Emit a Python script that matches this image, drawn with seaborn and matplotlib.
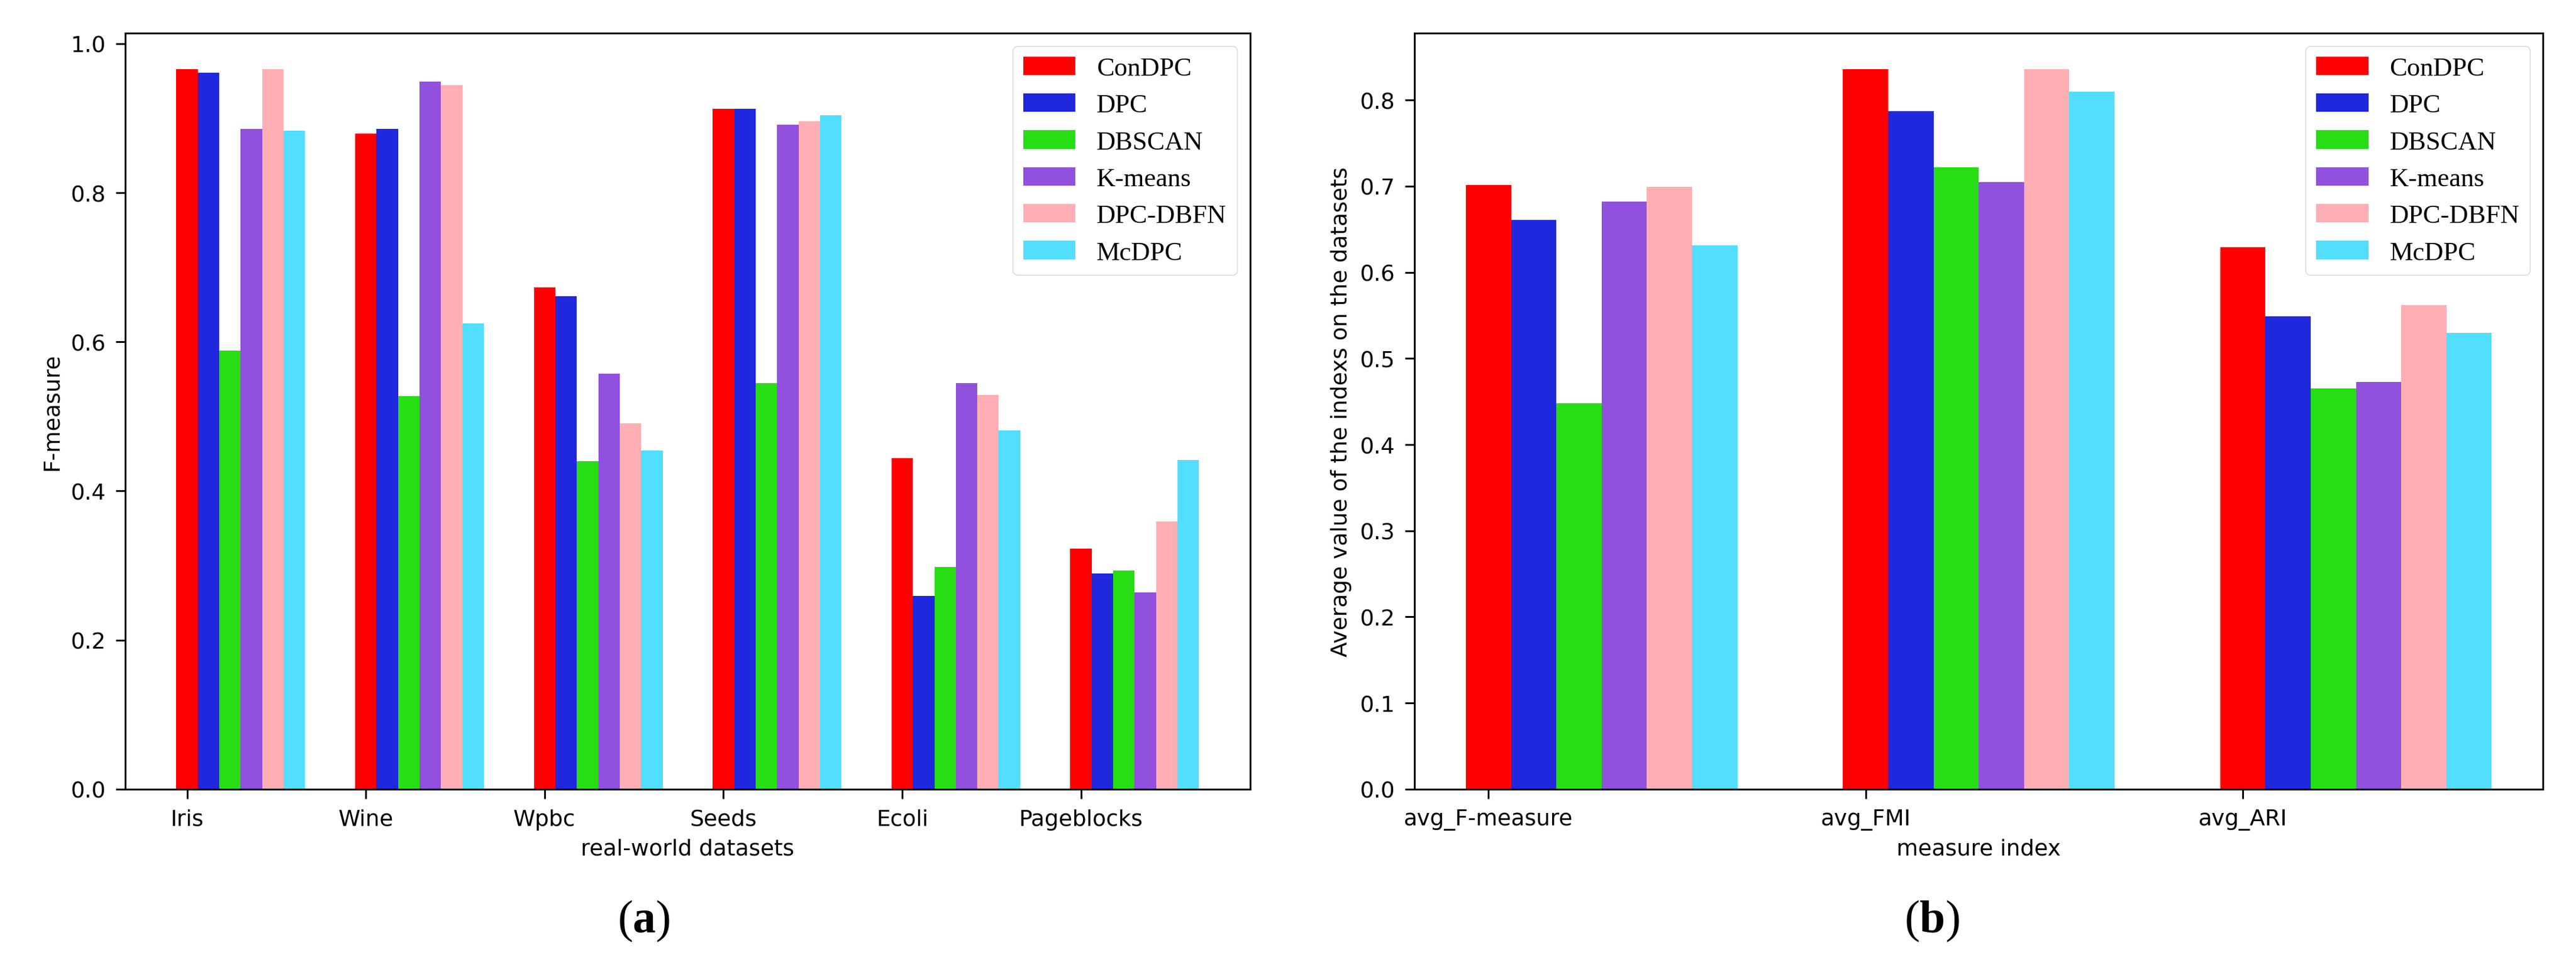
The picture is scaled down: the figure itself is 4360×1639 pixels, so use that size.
import numpy as np
import pandas as pd
import matplotlib
matplotlib.use("Agg")
import matplotlib.pyplot as plt
import seaborn as sns

# ---------------- data ----------------
methods = ["ConDPC", "DPC", "DBSCAN", "K-means", "DPC-DBFN", "McDPC"]
colors = ["#ff0000", "#1f28dc", "#27de14", "#9250de", "#ffaeb4", "#52defe"]

datasets = ["Iris", "Wine", "Wpbc", "Seeds", "Ecoli", "Pageblocks"]
fm_condpc = [0.966, 0.879, 0.673, 0.913, 0.444, 0.323]
fm_dpc = [0.961, 0.886, 0.661, 0.913, 0.259, 0.289]
fm_dbscan = [0.588, 0.527, 0.440, 0.545, 0.298, 0.293]
fm_kmeans = [0.886, 0.949, 0.557, 0.891, 0.545, 0.264]
fm_dpcdbfn = [0.966, 0.944, 0.491, 0.896, 0.529, 0.359]
fm_mcdpc = [0.883, 0.625, 0.454, 0.904, 0.481, 0.442]

measures = ["avg_F-measure", "avg_FMI", "avg_ARI"]
avg_condpc = [0.701, 0.836, 0.629]
avg_dpc = [0.661, 0.787, 0.549]
avg_dbscan = [0.448, 0.722, 0.465]
avg_kmeans = [0.682, 0.705, 0.473]
avg_dpcdbfn = [0.699, 0.836, 0.562]
avg_mcdpc = [0.631, 0.810, 0.530]

left_yticks = [0.0, 0.2, 0.4, 0.6, 0.8, 1.0]
right_yticks = [0.0, 0.1, 0.2, 0.3, 0.4, 0.5, 0.6, 0.7, 0.8]

fm_series = [fm_condpc, fm_dpc, fm_dbscan, fm_kmeans, fm_dpcdbfn, fm_mcdpc]
avg_series = [avg_condpc, avg_dpc, avg_dbscan, avg_kmeans, avg_dpcdbfn, avg_mcdpc]

# ---------------- style ----------------
FS = 27
plt.rcParams.update({
    "font.family": ["DejaVu Sans"],
    "font.size": FS,
    "axes.linewidth": 2.2,
    "xtick.major.width": 2.2,
    "ytick.major.width": 2.2,
    "xtick.major.size": 11.5,
    "ytick.major.size": 11.5,
    "xtick.major.pad": 12,
    "ytick.major.pad": 12,
    "axes.labelpad": 10,
    "mathtext.fontset": "custom",
    "mathtext.rm": "Liberation Serif",
    "mathtext.bf": "Liberation Serif:bold",
})

fig = plt.figure(figsize=(43.6, 16.4), dpi=100)
ax1 = fig.add_axes([0.0486, 0.1854, 0.4367, 0.78])
ax2 = fig.add_axes([0.5491, 0.1854, 0.4381, 0.78])

BW = 0.12


def grouped(ax, cats, series):
    base = np.arange(len(cats))
    for i, (name, vals, c) in enumerate(zip(methods, series, colors)):
        df = pd.DataFrame({"x": base + i * BW, "y": vals})
        sns.barplot(data=df, x="x", y="y", native_scale=True, width=BW,
                    color=c, saturation=1, errorbar=None, linewidth=0,
                    label=name, ax=ax)
    ax.set_xticks(base)
    ax.set_xticklabels(cats)
    ax.margins(x=0.05)
    ax.autoscale(enable=True, axis="x")
    leg = ax.legend(loc="upper right", prop={"family": "Liberation Serif", "size": 32})
    for s in ax.spines.values():
        s.set_visible(True)
        s.set_color("black")


grouped(ax1, datasets, fm_series)
ax1.set_yticks(left_yticks)
ax1.set_xlabel("real-world datasets")
ax1.set_ylabel("F-measure")

grouped(ax2, measures, avg_series)
ax2.set_yticks(right_yticks)
ax2.set_xlabel("measure index")
ax2.set_ylabel("Average value of the indexs on the datasets")

for ax in (ax1, ax2):
    ax.tick_params(axis="both", labelsize=FS)

fig.text(0.25, 0.05, r"($\mathbf{a}$)", ha="center", va="center", fontsize=56,
         family="Liberation Serif")
fig.text(0.75, 0.05, r"($\mathbf{b}$)", ha="center", va="center", fontsize=56,
         family="Liberation Serif")

fig.savefig("out.png", dpi=100, facecolor="white")
